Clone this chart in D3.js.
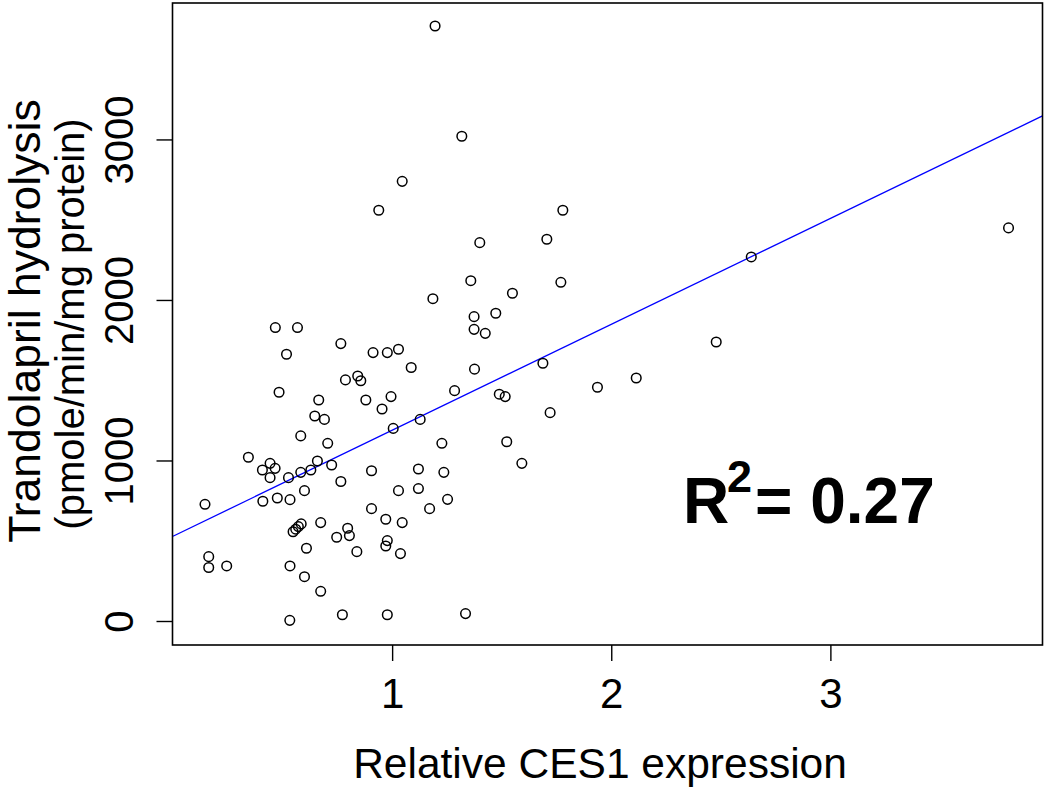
<!DOCTYPE html>
<html>
<head>
<meta charset="utf-8">
<script src="https://cdn.jsdelivr.net/npm/d3@7"></script>
<style>
  html, body { margin: 0; padding: 0; background: #fff; }
  svg { display: block; }
  text { font-family: "Liberation Sans", Arial, sans-serif; fill: #000; }
</style>
</head>
<body>
<svg id="chart" width="1050" height="793"></svg>
<script>
// ---- data ----
const cesExpression = [
  1.196, 1.318, 1.046, 0.939, 1.779, 1.400, 1.706, 1.359, 1.770, 1.186, 1.549, 1.473, 1.374,
  0.467, 0.568, 1.374, 1.425, 0.518, 0.766, 0.913, 0.978, 1.029, 1.087, 1.376, 1.688,
  0.484, 0.787, 0.843, 0.857, 1.937, 1.285, 1.489, 1.516, 0.665, 0.880, 0.995, 0.954,
  1.721, 0.647, 0.691, 1.128, 1.005, 0.583, 0.706, 1.227, 1.523, 1.592, 0.344, 0.443,
  0.408, 0.466, 0.443, 0.527, 0.583, 0.629, 0.659, 0.724, 0.906, 1.120, 1.236, 0.766,
  0.600, 1.029, 1.120, 0.146, 0.410, 0.476, 0.534, 1.253, 0.906, 1.171, 0.971, 1.046,
  0.674, 0.548, 0.560, 0.572, 0.585, 0.797, 0.747, 0.805, 0.978, 0.971, 0.609, 0.839,
  1.038, 0.163, 0.163, 0.245, 0.534, 0.600, 0.674, 0.533, 0.773, 0.978, 1.335,
  3.813, 2.639, 2.479, 2.114
];
const hydrolysis = [
  3707, 3020, 2739, 2559, 2559, 2357, 2378, 2120, 2110, 2008, 2042, 1917, 1896,
  1828, 1828, 1817, 1792, 1662, 1728, 1672, 1672, 1693, 1579, 1569, 1606,
  1425, 1502, 1526, 1497, 1456, 1435, 1413, 1398, 1377, 1377, 1398, 1321,
  1298, 1277, 1256, 1256, 1200, 1153, 1107, 1107, 1117, 982, 1020, 982,
  941, 951, 893, 893, 926, 941, 997, 972, 936, 947, 926, 869,
  812, 812, 825, 727, 746, 766, 756, 758, 700, 700, 634, 613,
  613, 556, 572, 588, 605, 578, 522, 532, 501, 467, 453, 432,
  420, 401, 333, 343, 343, 276, 185, 4, 39, 39, 46,
  2449, 2268, 1738, 1514
];
const xTicks = [1, 2, 3];
const yTicks = [0, 1000, 2000, 3000];
const fitIntercept = 528;   // regression line
const fitSlope = 660;
const xTitle = "Relative CES1 expression";
const yTitle1 = "Trandolapril hydrolysis";
const yTitle2 = "(pmole/min/mg protein)";

// ---- layout ----
const L = 172.5, R = 1042.5, T = 3, B = 645;
const svg = d3.select("#chart");
svg.append("rect").attr("width", 1050).attr("height", 793).attr("fill", "#fff");

const x = d3.scaleLinear().domain([0, 3.968]).range([L + 0.5, R]);
const y = d3.scaleLinear().domain([-149.5, 3850]).range([B, T]);

svg.append("clipPath").attr("id", "clip")
  .append("rect").attr("x", L).attr("y", T).attr("width", R - L).attr("height", B - T);

// regression line
const xd = x.domain();
svg.append("line")
  .attr("clip-path", "url(#clip)")
  .attr("x1", x(xd[0])).attr("y1", y(fitIntercept + fitSlope * xd[0]))
  .attr("x2", x(xd[1])).attr("y2", y(fitIntercept + fitSlope * xd[1]))
  .attr("stroke", "#0000ff").attr("stroke-width", 1.3);

// points
const pts = cesExpression.map((v, i) => [v, hydrolysis[i]]);
svg.append("g").selectAll("circle").data(pts).join("circle")
  .attr("cx", d => x(d[0])).attr("cy", d => y(d[1]))
  .attr("r", 4.8)
  .attr("fill", "none").attr("stroke", "#000").attr("stroke-width", 1.5);

// box
svg.append("rect").attr("x", L).attr("y", T).attr("width", R - L).attr("height", B - T)
  .attr("fill", "none").attr("stroke", "#000").attr("stroke-width", 1.6);

const fmt = d3.format("d");

// x axis
const xAxis = d3.axisBottom(x).tickValues(xTicks).tickFormat(fmt).tickSize(16).tickSizeOuter(0).tickPadding(0);
const gx = svg.append("g").attr("transform", `translate(0,${B})`).call(xAxis);
gx.select(".domain").remove();
gx.selectAll(".tick line").attr("stroke", "#000").attr("stroke-width", 1.4);
gx.selectAll(".tick text")
  .attr("font-size", 42).attr("font-family", "Liberation Sans, Arial, sans-serif")
  .attr("fill", "#000").attr("dy", null).attr("y", 63);

// y axis
const yAxis = d3.axisLeft(y).tickValues(yTicks).tickFormat(fmt).tickSize(16).tickSizeOuter(0).tickPadding(0);
const gy = svg.append("g").attr("transform", `translate(${L},0)`).call(yAxis);
gy.select(".domain").remove();
gy.selectAll(".tick line").attr("stroke", "#000").attr("stroke-width", 1.4);
gy.selectAll(".tick text")
  .attr("font-size", 40).attr("font-family", "Liberation Sans, Arial, sans-serif")
  .attr("fill", "#000")
  .attr("x", null).attr("dy", null)
  .attr("text-anchor", "middle")
  .attr("transform", "translate(-40,0) rotate(-90)");

// x title
svg.append("text").attr("x", 600).attr("y", 778)
  .attr("text-anchor", "middle").attr("font-size", 42.5).text(xTitle);

// y titles
svg.append("text").attr("transform", "translate(40,321) rotate(-90)")
  .attr("text-anchor", "middle").attr("font-size", 44.5).text(yTitle1);
svg.append("text").attr("transform", "translate(84,324) rotate(-90)")
  .attr("text-anchor", "middle").attr("font-size", 40).text(yTitle2);

// R^2 annotation
svg.append("text").attr("x", 683).attr("y", 523)
  .attr("font-size", 64).attr("font-weight", "bold").text("R");
svg.append("text").attr("x", 727).attr("y", 492)
  .attr("font-size", 45).attr("font-weight", "bold").text("2");
svg.append("text").attr("x", 755).attr("y", 523)
  .attr("font-size", 64).attr("font-weight", "bold").text("= 0.27");
</script>
</body>
</html>
